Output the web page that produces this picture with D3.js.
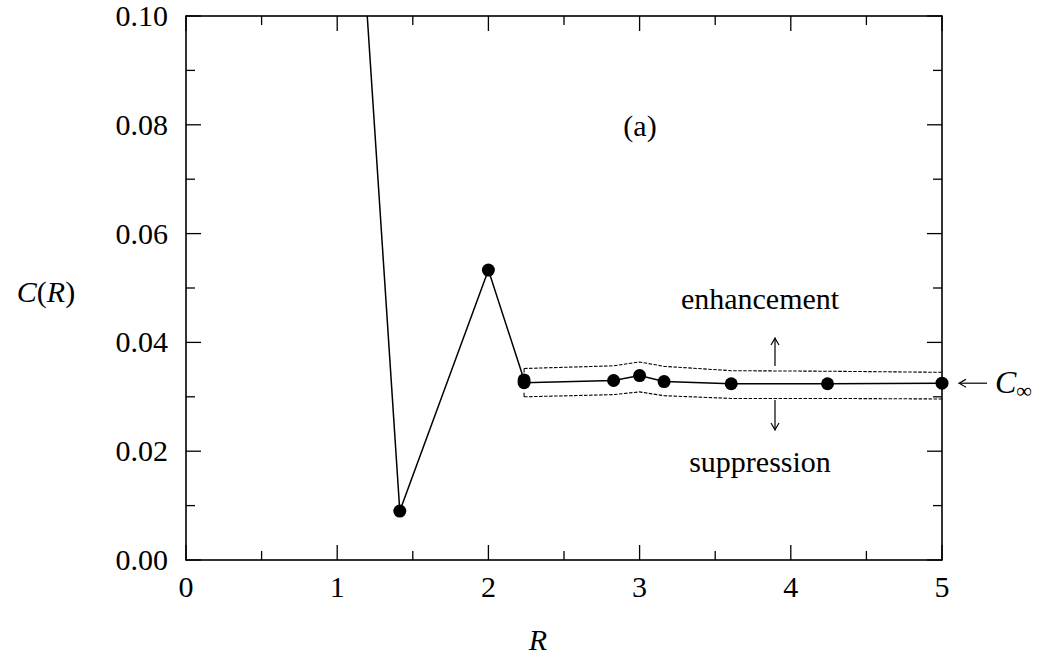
<!DOCTYPE html>
<html>
<head>
<meta charset="utf-8">
<script src="https://cdn.jsdelivr.net/npm/d3@7"></script>
<style>
  html, body { margin: 0; padding: 0; background: #fff; }
  svg { display: block; }
  svg text { font-family: "Liberation Serif", "DejaVu Serif", serif; }
</style>
</head>
<body>
<svg id="chart" width="1045" height="659"></svg>
<script>
// ---- data ----
const R = [1.0, 1.414, 2.0, 2.236, 2.236, 2.828, 3.0, 3.162, 3.606, 4.243, 5.0];
const C = [0.184, 0.0090, 0.0533, 0.0331, 0.0326, 0.0330, 0.0339, 0.0328, 0.0324, 0.0324, 0.0325];
const bandR = [2.236, 2.828, 3.0, 3.162, 3.606, 4.243, 5.0];
const bandUpper = [0.0352, 0.0357, 0.0364, 0.0356, 0.0348, 0.0347, 0.0345];
const bandLower = [0.0300, 0.0304, 0.0309, 0.0302, 0.0297, 0.0297, 0.0296];
const xMajorTicks = [0, 1, 2, 3, 4, 5];
const xMinorTicks = [0.5, 1.5, 2.5, 3.5, 4.5];
const yMajorTicks = [0.00, 0.02, 0.04, 0.06, 0.08, 0.10];
const yMinorTicks = [0.01, 0.03, 0.05, 0.07, 0.09];
const cInf = 0.0325;

// ---- layout ----
const svg = d3.select("#chart");
const pL = 186, pR = 942, pT = 16, pB = 560;
const x = d3.scaleLinear().domain([0, 5]).range([pL, pR]);
const y = d3.scaleLinear().domain([0, 0.10]).range([pB, pT]);
const FS = 30;

function txt(sel) { return sel.append("text").attr("fill", "#000"); }

svg.append("defs").append("clipPath").attr("id", "clip")
  .append("rect").attr("x", pL).attr("y", pT).attr("width", pR - pL).attr("height", pB - pT);

// ticks (inward, all four sides)
const majLen = 15, minLen = 9;
const tickG = svg.append("g").attr("stroke", "#000").attr("stroke-width", 1.3);
function xTicks(vals, len) {
  vals.forEach(v => {
    tickG.append("line").attr("x1", x(v)).attr("x2", x(v)).attr("y1", pB).attr("y2", pB - len);
    tickG.append("line").attr("x1", x(v)).attr("x2", x(v)).attr("y1", pT).attr("y2", pT + len);
  });
}
function yTicks(vals, len) {
  vals.forEach(v => {
    tickG.append("line").attr("x1", pL).attr("x2", pL + len).attr("y1", y(v)).attr("y2", y(v));
    tickG.append("line").attr("x1", pR).attr("x2", pR - len).attr("y1", y(v)).attr("y2", y(v));
  });
}
xTicks(xMajorTicks, majLen); xTicks(xMinorTicks, minLen);
yTicks(yMajorTicks, majLen); yTicks(yMinorTicks, minLen);

// frame
svg.append("rect").attr("x", pL).attr("y", pT).attr("width", pR - pL).attr("height", pB - pT)
  .attr("fill", "none").attr("stroke", "#000").attr("stroke-width", 1.6);

// tick labels
svg.append("g").selectAll("text").data(xMajorTicks).join("text")
  .attr("fill", "#000")
  .attr("x", d => x(d)).attr("y", 597).attr("text-anchor", "middle")
  .attr("font-size", FS).text(d => d3.format("d")(d));
svg.append("g").selectAll("text").data(yMajorTicks).join("text")
  .attr("fill", "#000")
  .attr("x", 168).attr("y", d => y(d) + 10).attr("text-anchor", "end")
  .attr("font-size", FS).text(d => d3.format(".2f")(d));

// axis labels
const yl = txt(svg).attr("x", 46).attr("y", 302).attr("text-anchor", "middle").attr("font-size", FS);
yl.append("tspan").attr("font-style", "italic").text("C");
yl.append("tspan").text("(");
yl.append("tspan").attr("font-style", "italic").text("R");
yl.append("tspan").text(")");
txt(svg).attr("x", 538).attr("y", 650).attr("text-anchor", "middle")
  .attr("font-size", FS).attr("font-style", "italic").text("R");

// dashed band
const plot = svg.append("g").attr("clip-path", "url(#clip)");
const bandLine = d3.line().x(d => x(d[0])).y(d => y(d[1]));
[bandUpper, bandLower].forEach(arr => {
  const p = bandR.map((r, i) => [r, arr[i]]);
  plot.append("path").attr("d", bandLine(p))
    .attr("fill", "none").attr("stroke", "#000").attr("stroke-width", 1.1)
    .attr("stroke-dasharray", "3.5,1.5");
});
plot.append("line").attr("x1", x(bandR[0])).attr("x2", x(bandR[0]))
  .attr("y1", y(bandUpper[0])).attr("y2", y(bandUpper[0]) + 4).attr("stroke", "#000").attr("stroke-width", 1.1);
plot.append("line").attr("x1", x(bandR[0])).attr("x2", x(bandR[0]))
  .attr("y1", y(bandLower[0])).attr("y2", y(bandLower[0]) - 4).attr("stroke", "#000").attr("stroke-width", 1.1);

// data line
const pts = R.map((r, i) => [r, C[i]]);
plot.append("path").attr("d", d3.line().x(d => x(d[0])).y(d => y(d[1]))(pts))
  .attr("fill", "none").attr("stroke", "#000").attr("stroke-width", 1.5);

// markers
svg.append("g").selectAll("circle").data(pts.filter(d => d[1] <= 0.10)).join("circle")
  .attr("cx", d => x(d[0])).attr("cy", d => y(d[1])).attr("r", 6.5).attr("fill", "#000");

// annotations
txt(svg).attr("x", 640).attr("y", 136).attr("text-anchor", "middle").attr("font-size", FS).text("(a)");
txt(svg).attr("x", 760).attr("y", 309).attr("text-anchor", "middle").attr("font-size", FS).text("enhancement");
txt(svg).attr("x", 760).attr("y", 472).attr("text-anchor", "middle").attr("font-size", FS).text("suppression");

function vArrow(xp, y1, y2) {
  const g = svg.append("g").attr("stroke", "#000").attr("stroke-width", 1.2).attr("fill", "none");
  g.append("line").attr("x1", xp).attr("x2", xp).attr("y1", y1).attr("y2", y2);
  const s = y2 < y1 ? 1 : -1;
  g.append("path").attr("d", `M${xp - 4},${y2 + s * 7} Q${xp - 1},${y2 + s * 2} ${xp},${y2} Q${xp + 1},${y2 + s * 2} ${xp + 4},${y2 + s * 7}`);
}
vArrow(775, 366, 338);
vArrow(775, 400, 430);

// C_inf arrow
const cy = y(cInf);
const ag = svg.append("g").attr("stroke", "#000").attr("stroke-width", 1.2).attr("fill", "none");
ag.append("line").attr("x1", 959).attr("x2", 987).attr("y1", cy).attr("y2", cy);
ag.append("path").attr("d", `M${966},${cy - 4} Q${961},${cy - 1} ${959},${cy} Q${961},${cy + 1} ${966},${cy + 4}`);
const ct = txt(svg).attr("x", 995).attr("y", cy + 10).attr("font-size", FS + 2);
ct.append("tspan").attr("font-style", "italic").text("C");
ct.append("tspan").attr("font-size", 22).attr("dy", 5).text("∞");
</script>
</body>
</html>
